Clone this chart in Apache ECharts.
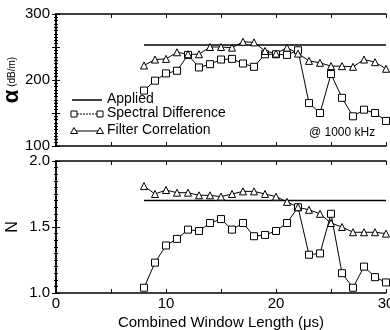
<!DOCTYPE html>
<html>
<head>
<meta charset="utf-8">
<script src="https://cdn.jsdelivr.net/npm/echarts@6/dist/echarts.min.js"></script>
<style>
  html, body { margin: 0; padding: 0; background: #fff; }
  #chart { width: 390px; height: 330px; }
</style>
</head>
<body>
<div id="chart"></div>
<script>
// combined window length (us)
const windowLen = [8, 9, 10, 11, 12, 13, 14, 15, 16, 17, 18, 19, 20, 21, 22, 23, 24, 25, 26, 27, 28, 29, 30];
// attenuation alpha (dB/m) @ 1000 kHz
const alphaSpectral = [184, 199, 210, 214, 238, 219, 224, 231, 232, 225, 220, 239, 239, 238, 245, 165, 150, 209, 173, 145, 155, 150, 138];
const alphaFilter = [222, 231, 232, 242, 239, 239, 250, 250, 249, 258, 257, 244, 240, 249, 240, 229, 226, 221, 221, 220, 231, 227, 217];
const alphaApplied = 253;
// exponent N
const nSpectral = [1.04, 1.23, 1.36, 1.41, 1.48, 1.47, 1.53, 1.56, 1.48, 1.53, 1.43, 1.44, 1.47, 1.53, 1.65, 1.29, 1.30, 1.60, 1.15, 1.04, 1.20, 1.12, 1.08];
const nFilter = [1.81, 1.75, 1.78, 1.76, 1.76, 1.74, 1.74, 1.73, 1.75, 1.77, 1.77, 1.75, 1.73, 1.69, 1.65, 1.63, 1.60, 1.53, 1.50, 1.46, 1.46, 1.46, 1.45];
const nApplied = 1.70;
const appliedRange = [8, 30];
const xTicks = [0, 10, 20, 30];
const legendNames = ['Applied', 'Spectral Difference', 'Filter Correlation'];

const font = 'Liberation Sans, Arial, sans-serif';
const pair = (xs, ys) => xs.map((x, i) => [x, ys[i]]);

const chart = echarts.init(document.getElementById('chart'));

function xAxisCfg(gridIndex, showLabels, mirror) {
  return {
    type: 'value', gridIndex: gridIndex, min: 0, max: 30, interval: 5,
    position: mirror ? 'top' : 'bottom',
    axisLine: { show: true, lineStyle: { color: '#000', width: 1.5 } },
    axisTick: { show: true, inside: true, length: 4, lineStyle: { color: '#000' } },
    minorTick: { show: false },
    splitLine: { show: false },
    axisLabel: {
      show: showLabels && !mirror, color: '#000', fontSize: 15, fontFamily: font, margin: 3,
      formatter: v => (xTicks.indexOf(v) >= 0 ? String(v) : '')
    }
  };
}

function yAxisCfg(gridIndex, min, max, interval, labels, mirror, fmt) {
  return {
    type: 'value', gridIndex: gridIndex, min: min, max: max, interval: interval,
    position: mirror ? 'right' : 'left',
    axisLine: { show: true, lineStyle: { color: '#000', width: 1.5 } },
    axisTick: { show: true, inside: true, length: 4, lineStyle: { color: '#000' } },
    minorTick: { show: true, splitNumber: 10, length: 2, lineStyle: { color: '#000' } },
    splitLine: { show: false },
    axisLabel: {
      show: !mirror, color: '#000', fontSize: 15, fontFamily: font, margin: 6,
      formatter: v => (labels.indexOf(fmt(v)) >= 0 ? fmt(v) : '')
    }
  };
}

const legendY = [100, 114, 131];
const graphics = [];
// legend: Applied
graphics.push({ type: 'line', shape: { x1: 72, y1: legendY[0], x2: 102, y2: legendY[0] }, style: { stroke: '#000', lineWidth: 1.5 } });
// legend: Spectral Difference
graphics.push({ type: 'line', shape: { x1: 74, y1: legendY[1], x2: 100, y2: legendY[1] }, style: { stroke: '#000', lineWidth: 1, lineDash: [2, 1] } });
[74, 100].forEach(cx => graphics.push({ type: 'rect', shape: { x: cx - 3, y: legendY[1] - 3, width: 6, height: 6 }, style: { fill: '#fff', stroke: '#000', lineWidth: 1 } }));
// legend: Filter Correlation
graphics.push({ type: 'line', shape: { x1: 74, y1: legendY[2], x2: 100, y2: legendY[2] }, style: { stroke: '#000', lineWidth: 1 } });
[74, 100].forEach(cx => graphics.push({ type: 'polygon', shape: { points: [[cx, legendY[2] - 3.5], [cx - 3.5, legendY[2] + 2.5], [cx + 3.5, legendY[2] + 2.5]] }, style: { fill: '#fff', stroke: '#000', lineWidth: 1 } }));
legendNames.forEach((t, i) => graphics.push({
  type: 'text', left: 107, top: legendY[i] - 8,
  style: { text: t, fill: '#000', font: '14px ' + font }
}));
graphics.push({ type: 'text', left: 309, top: 127, style: { text: '@ 1000 kHz', fill: '#000', font: '12px ' + font } });

const option = {
  animation: false,
  backgroundColor: '#fff',
  grid: [
    { left: 56, top: 14, width: 330, height: 132, outerBoundsMode: 'none' },
    { left: 56, top: 161, width: 330, height: 132, outerBoundsMode: 'none' }
  ],
  xAxis: [
    xAxisCfg(0, false, false),
    xAxisCfg(0, false, true),
    Object.assign(xAxisCfg(1, true, false), {
      name: 'Combined Window Length (\u03bcs)', nameLocation: 'middle', nameGap: 22,
      nameMoveOverlap: false,
      nameTextStyle: { color: '#000', fontSize: 15, fontFamily: font }
    }),
    xAxisCfg(1, false, true)
  ],
  yAxis: [
    Object.assign(yAxisCfg(0, 100, 300, 50, ['100', '200', '300'], false, v => String(v)), {
      name: '{a|\u03b1}{u| (dB/m)}', nameLocation: 'middle', nameGap: 33, nameRotate: 90,
      nameMoveOverlap: false,
      nameTextStyle: {
        color: '#000',
        rich: {
          a: { fontSize: 22, fontWeight: 'bold', fontFamily: font, color: '#000' },
          u: { fontSize: 10, fontFamily: font, color: '#000' }
        }
      }
    }),
    yAxisCfg(0, 100, 300, 50, [], true, v => String(v)),
    Object.assign(yAxisCfg(1, 1, 2, 0.5, ['1.0', '1.5', '2.0'], false, v => v.toFixed(1)), {
      name: 'N', nameLocation: 'middle', nameGap: 35, nameRotate: 90,
      nameMoveOverlap: false,
      nameTextStyle: { color: '#000', fontSize: 16, fontFamily: font }
    }),
    yAxisCfg(1, 1, 2, 0.5, [], true, v => v.toFixed(1))
  ],
  series: [
    {
      name: 'Applied', type: 'line', xAxisIndex: 0, yAxisIndex: 0, showSymbol: false,
      data: pair(appliedRange, [alphaApplied, alphaApplied]),
      lineStyle: { color: '#000', width: 1.5 }
    },
    {
      name: 'Spectral Difference', type: 'line', xAxisIndex: 0, yAxisIndex: 0,
      data: pair(windowLen, alphaSpectral), symbol: 'rect', symbolSize: 7,
      lineStyle: { color: '#000', width: 1 }, itemStyle: { color: '#fff', borderColor: '#000', borderWidth: 1 }
    },
    {
      name: 'Filter Correlation', type: 'line', xAxisIndex: 0, yAxisIndex: 0,
      data: pair(windowLen, alphaFilter), symbol: 'triangle', symbolSize: 7,
      lineStyle: { color: '#000', width: 1 }, itemStyle: { color: '#fff', borderColor: '#000', borderWidth: 1 }
    },
    {
      name: 'Applied N', type: 'line', xAxisIndex: 2, yAxisIndex: 2, showSymbol: false,
      data: pair(appliedRange, [nApplied, nApplied]),
      lineStyle: { color: '#000', width: 1.5 }
    },
    {
      name: 'Spectral Difference N', type: 'line', xAxisIndex: 2, yAxisIndex: 2,
      data: pair(windowLen, nSpectral), symbol: 'rect', symbolSize: 7,
      lineStyle: { color: '#000', width: 1 }, itemStyle: { color: '#fff', borderColor: '#000', borderWidth: 1 }
    },
    {
      name: 'Filter Correlation N', type: 'line', xAxisIndex: 2, yAxisIndex: 2,
      data: pair(windowLen, nFilter), symbol: 'triangle', symbolSize: 7,
      lineStyle: { color: '#000', width: 1 }, itemStyle: { color: '#fff', borderColor: '#000', borderWidth: 1 }
    }
  ],
  graphic: graphics
};

chart.setOption(option);
</script>
</body>
</html>
